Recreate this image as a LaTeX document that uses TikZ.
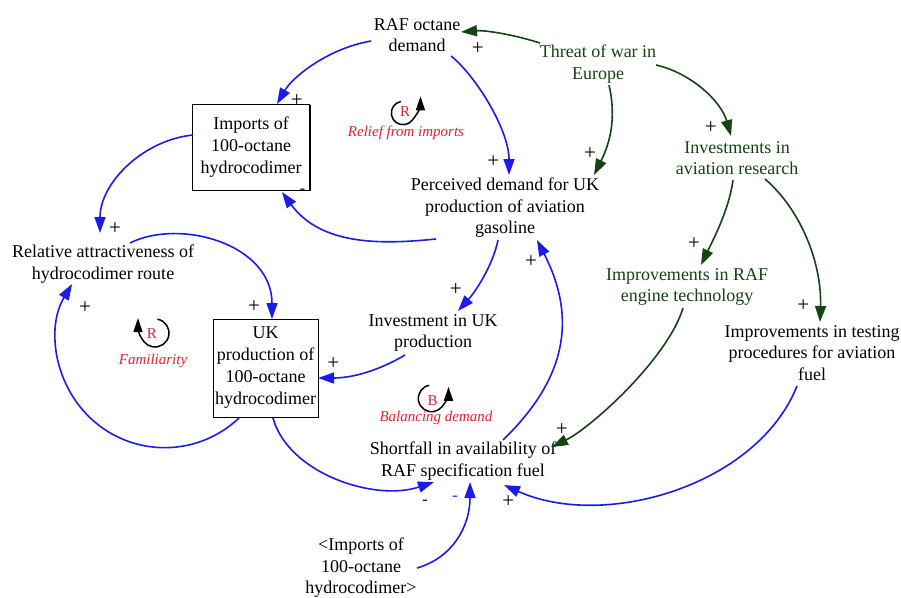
\documentclass[tikz,border=0pt]{standalone}
\usepackage{fontspec}
\setmainfont{Liberation Serif}
\usetikzlibrary{arrows.meta,shadows}

\definecolor{linkblue}{RGB}{28,28,232}
\definecolor{wargreen}{RGB}{20,68,20}
\definecolor{looplabel}{RGB}{228,32,44}

\tikzset{
  var/.style={align=center, inner sep=0pt, font=\fontsize{18}{21.5}\selectfont},
  extvar/.style={var, text=wargreen},
  stock/.style={var, font=\fontsize{18}{22}\selectfont, draw=black, line width=0.9pt, fill=white,
    drop shadow={shadow xshift=1pt, shadow yshift=-1pt, fill=black, opacity=1}},
  blue link/.style={draw=linkblue, line width=1.6pt, -{Triangle[length=16pt,width=11pt]}},
  green link/.style={draw=wargreen, line width=1.6pt, -{Triangle[length=16pt,width=11pt]}},
  sign/.style={font=\fontsize{21}{21}\selectfont, inner sep=0pt},
  minus/.style={font=\fontsize{16}{16}\selectfont, inner sep=0pt},
  loopmark/.style={draw=black, line width=1.5pt, -{Triangle[length=14pt,width=9pt]}},
  looptag/.style={text=looplabel, font=\fontsize{15}{15}\selectfont, inner sep=0pt},
  loopname/.style={text=looplabel, font=\fontsize{15}{15}\selectfont\itshape, inner sep=0pt},
}

\begin{document}
\begin{tikzpicture}[x=1pt,y=1pt]
\fill[white] (0,0) rectangle (901,-597);
\useasboundingbox (0,0) rectangle (901,-597);

% ---- variables ----
\node[var]    (raf)    at (417,-35)   {RAF octane\\demand};
\node[extvar] (threat) at (598,-64)   {Threat of war in\\Europe};
\node[stock, minimum width=117pt, minimum height=86pt] (imp) at (251,-147) {Imports of\\100-octane\\hydrocodimer};
\node[var]    (per)    at (505,-208)  {Perceived demand for UK\\production of aviation\\gasoline};
\node[extvar] (inv)    at (737,-158)  {Investments in\\aviation research};
\node[var]    (rel)    at (103,-264)  {Relative attractiveness of\\hydrocodimer route};
\node[extvar] (eng)    at (687,-287)  {Improvements in RAF\\engine technology};
\node[var]    (test)   at (812,-353)  {Improvements in testing\\procedures for aviation\\fuel};
\node[var]    (invuk)  at (433,-333)  {Investment in UK\\production};
\node[stock, minimum width=105pt, minimum height=98pt] (uk) at (265.5,-368) {UK\\production of\\100-octane\\hydrocodimer};
\node[var]    (short)  at (463,-461)  {Shortfall in availability of\\RAF specification fuel};
\node[var]    (shad)   at (361,-568)  {<Imports of\\100-octane\\hydrocodimer>};

% ---- causal links ----
\draw[blue link] ([shift={(-46,-6)}]raf.center) .. controls +(-45,-8) and +(15,26) .. ([shift={(26,43)}]imp.center);
\draw[blue link] ([shift={(34,-21)}]raf.center) .. controls +(25,-20) and +(0,45) .. ([shift={(4,33)}]per.center);
\draw[green link] ([shift={(-58,21)}]threat.center) .. controls +(-25,8) and +(25,2) .. ([shift={(44,3)}]raf.center);
\draw[green link] ([shift={(11,-21)}]threat.center) .. controls +(8,-35) and +(15,30) .. ([shift={(89,33)}]per.center);
\draw[green link] ([shift={(58,-1)}]threat.center) .. controls +(35,-8) and +(-10,35) .. ([shift={(-6,22)}]inv.center);
\draw[green link] ([shift={(-4,-22)}]inv.center) .. controls +(-4,-30) and +(12,25) .. ([shift={(14,22)}]eng.center);
\draw[green link] ([shift={(28,-21)}]inv.center) .. controls +(35,-30) and +(2,60) .. ([shift={(8,31)}]test.center);
\draw[green link] ([shift={(-4,-21)}]eng.center) .. controls +(-15,-50) and +(40,20) .. ([shift={(89,14)}]short.center);
\draw[blue link] ([shift={(-15,-33)}]test.center) .. controls +(-40,-100) and +(100,-45) .. ([shift={(41,-24)}]short.center);
\draw[blue link] ([shift={(-69,-31)}]per.center) .. controls +(-50,-5) and +(40,-55) .. ([shift={(31,-45)}]imp.center);
\draw[blue link] ([shift={(-7,-32)}]per.center) .. controls +(-5,-25) and +(18,20) .. ([shift={(25,22)}]invuk.center);
\draw[blue link] ([shift={(-28,-22)}]invuk.center) .. controls +(-25,-15) and +(35,0) .. ([shift={(52.5,-10)}]uk.center);
\draw[blue link] ([shift={(-58,12)}]imp.center) .. controls +(-50,-5) and +(0,50) .. ([shift={(-3,31)}]rel.center);
\draw[blue link] ([shift={(27,21)}]rel.center) .. controls +(50,25) and +(0,75) .. ([shift={(6.5,49)}]uk.center);
\draw[blue link] ([shift={(-26.5,-50)}]uk.center) arc[start angle=-46.5, end angle=-211, radius=108];
\draw[blue link] ([shift={(7.5,-50)}]uk.center) .. controls +(15,-55) and +(-60,-20) .. ([shift={(-29,-21)}]short.center);
\draw[blue link] ([shift={(56,0)}]shad.center) .. controls +(35,10) and +(0,-45) .. ([shift={(7,-21)}]short.center);
\draw[blue link] ([shift={(40,21)}]short.center) .. controls +(62,60) and +(41,-80) .. ([shift={(32,-32)}]per.center);

% ---- polarity signs ----
\node[sign] (s1)  at (296.7,-101)  {+};
\node[sign] (s2)  at (493.3,-161.7){+};
\node[sign] (s3)  at (477.7,-48.3) {+};
\node[sign] (s4)  at (590,-154)    {+};
\node[sign] (s5)  at (710.7,-127.7){+};
\node[sign] (s6)  at (694,-243.3)  {+};
\node[sign] (s7)  at (803.3,-306)  {+};
\node[sign] (s8)  at (561.7,-430)  {+};
\node[sign] (s9)  at (508.3,-501.7){+};
\node[minus] (s10) at (302.5,-191.7){-};
\node[sign] (s11) at (455.7,-290)  {+};
\node[sign] (s12) at (333.3,-363.3){+};
\node[sign] (s13) at (115,-228.3)  {+};
\node[sign] (s14) at (254,-306.7)  {+};
\node[sign] (s15) at (85,-307.7)   {+};
\node[minus] (s16) at (425,-502.7)  {-};
\node[minus, text=linkblue] (s17) at (455,-498.3) {-};
\node[sign] (s18) at (531,-261.7)  {+};

% ---- loop identifiers ----
\node[looptag] (lr1) at (405,-112) {R};
\draw[loopmark] (403,-113) ++(100:11.7) arc[start angle=100, end angle=320, radius=11.7]
  to[out=50, in=-90] ++(8.5,24.2);
\node[loopname] (ln1) at (406,-133.3) {Relief from imports};

\node[looptag] (lr2) at (152,-333.5) {R};
\draw[loopmark] (155,-333) ++(80:14) arc[start angle=80, end angle=-140, radius=14]
  to[out=130, in=-90] ++(-6.3,24);
\node[loopname] (ln2) at (153,-361) {Familiarity};

\node[looptag] (lb) at (432.7,-400.7) {B};
\draw[loopmark] (431.6,-398.4) ++(100:13.3) arc[start angle=100, end angle=320, radius=13.3]
  to[out=50, in=-90] ++(6.7,20.2);
\node[loopname] (ln3) at (436,-417.7) {Balancing demand};
\end{tikzpicture}
\end{document}
